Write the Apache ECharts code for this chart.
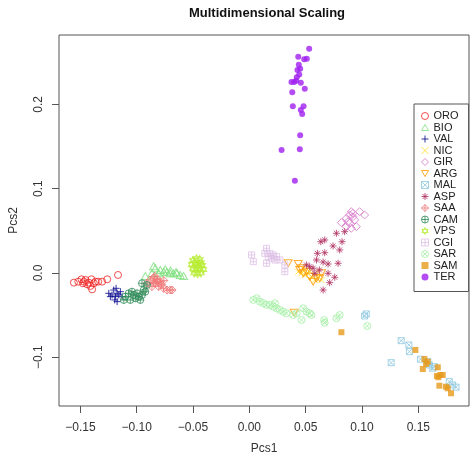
<!DOCTYPE html>
<html>
<head>
<meta charset="utf-8">
<script src="https://cdn.jsdelivr.net/npm/echarts@6/dist/echarts.min.js"></script>
<style>html,body{margin:0;padding:0;background:#fff}#c{width:472px;height:463px}</style>
</head>
<body>
<div id="c"></div>
<script>
// ---- data ----
const groups = ['ORO','BIO','VAL','NIC','GIR','ARG','MAL','ASP','SAA','CAM','VPS','CGI','SAR','SAM','TER'];
const xTicks = [-0.15,-0.10,-0.05,0.00,0.05,0.10,0.15];
const yTicks = [-0.1,0.0,0.1,0.2];

const ORO = [[-0.1558,-0.0115],[-0.1519,-0.0103],[-0.1490,-0.0075],[-0.1469,-0.0103],[-0.1455,-0.0083],[-0.1425,-0.0115],[-0.1402,-0.0075],[-0.1381,-0.0122],[-0.1366,-0.0103],[-0.1396,-0.0194],[-0.1342,-0.0103],[-0.1307,-0.0103],[-0.1262,-0.0075],[-0.1166,-0.0024],[-0.1478,-0.0122],[-0.1440,-0.0134],[-0.1411,-0.0154]];
const BIO = [[-0.0835,0.0056],[-0.0791,0.0036],[-0.0761,0.0015],[-0.0732,0.0015],[-0.0703,-0.0004],[-0.0673,-0.0004],[-0.0643,-0.0004],[-0.0614,-0.0024],[-0.0584,-0.0036],[-0.0865,-0.0004],[-0.0924,-0.0036],[-0.0805,-0.0004],[-0.0747,0.0044],[-0.0850,0.0080],[-0.0700,0.0030],[-0.0650,0.0010]];
const VAL = [[-0.1248,-0.0241],[-0.1219,-0.0261],[-0.1204,-0.0202],[-0.1189,-0.0281],[-0.1174,-0.0241],[-0.1159,-0.0261],[-0.1145,-0.0222],[-0.1195,-0.0320],[-0.1174,-0.0340],[-0.1234,-0.0281],[-0.1130,-0.0281],[-0.1183,-0.0182]];
const NIC = [[0.0434,0.0015],[0.0463,-0.0004],[0.0492,-0.0024],[0.0522,-0.0004],[0.0551,-0.0044],[0.0581,-0.0024],[0.0611,-0.0044],[0.0581,-0.0083],[0.0640,-0.0083],[0.0492,0.0036],[0.0536,0.0015]];
const GIR = [[0.0817,0.0597],[0.0861,0.0649],[0.0890,0.0688],[0.0905,0.0727],[0.0920,0.0668],[0.0935,0.0629],[0.0890,0.0590],[0.0861,0.0549],[0.0950,0.0549],[0.0979,0.0727],[0.1023,0.0688],[0.0920,0.0708],[0.0876,0.0609],[0.0905,0.0530]];
const ARG = [[0.0345,0.0115],[0.0434,0.0107],[0.0448,0.0036],[0.0478,-0.0004],[0.0507,0.0015],[0.0536,-0.0044],[0.0566,-0.0103],[0.0596,-0.0063],[0.0625,-0.0063],[0.0463,0.0056],[0.0640,-0.0004],[0.0398,-0.0471]];
const MAL = [[0.1023,-0.0510],[0.1038,-0.0486],[0.1348,-0.0803],[0.1416,-0.0854],[0.1421,-0.0933],[0.1259,-0.1064],[0.1519,-0.1023],[0.1598,-0.1091],[0.1628,-0.1130],[0.1642,-0.1111],[0.1775,-0.1289],[0.1805,-0.1328],[0.1835,-0.1355],[0.1584,-0.1052]];
const ASP = [[0.0773,0.0471],[0.0846,0.0490],[0.0634,0.0371],[0.0669,0.0391],[0.0823,0.0371],[0.0743,0.0320],[0.0802,0.0273],[0.0604,0.0233],[0.0669,0.0240],[0.0788,0.0115],[0.0596,0.0154],[0.0655,0.0130],[0.0699,0.0107],[0.0507,0.0095],[0.0566,0.0056],[0.0581,-0.0004],[0.0699,-0.0004],[0.0758,-0.0051],[0.0713,-0.0115],[0.0655,-0.0202],[0.0536,0.0075],[0.0622,0.0036]];
const SAA = [[-0.0909,-0.0122],[-0.0880,-0.0083],[-0.0850,-0.0063],[-0.0820,-0.0075],[-0.0791,-0.0103],[-0.0761,-0.0182],[-0.0732,-0.0202],[-0.0703,-0.0202],[-0.0865,-0.0162],[-0.0805,-0.0162],[-0.0835,-0.0122],[-0.0850,-0.0120],[-0.0810,-0.0110],[-0.0780,-0.0140],[-0.0840,-0.0040],[-0.0760,-0.0090],[-0.0686,-0.0202]];
const CAM = [[-0.1101,-0.0281],[-0.1071,-0.0241],[-0.1042,-0.0222],[-0.1027,-0.0261],[-0.1012,-0.0300],[-0.0997,-0.0241],[-0.1057,-0.0320],[-0.0982,-0.0281],[-0.0953,-0.0261],[-0.0938,-0.0202],[-0.0953,-0.0122],[-0.0909,-0.0142],[-0.0924,-0.0222],[-0.1115,-0.0320],[-0.0968,-0.0320]];
const VPS = [[-0.0500,0.0150],[-0.0470,0.0170],[-0.0440,0.0160],[-0.0510,0.0100],[-0.0480,0.0110],[-0.0450,0.0100],[-0.0420,0.0090],[-0.0500,0.0050],[-0.0470,0.0040],[-0.0440,0.0050],[-0.0410,0.0040],[-0.0490,0.0000],[-0.0460,-0.0010],[-0.0430,0.0000],[-0.0460,0.0080],[-0.0430,0.0120]];
const CGI = [[0.0020,0.0214],[0.0035,0.0134],[0.0153,0.0293],[0.0138,0.0233],[0.0168,0.0194],[0.0182,0.0233],[0.0197,0.0174],[0.0227,0.0154],[0.0242,0.0194],[0.0271,0.0154],[0.0153,0.0115],[0.0315,0.0015],[0.0212,0.0214],[0.0315,0.0095]];
const SAR = [[0.0035,-0.0320],[0.0065,-0.0300],[0.0094,-0.0340],[0.0124,-0.0359],[0.0153,-0.0379],[0.0182,-0.0379],[0.0212,-0.0399],[0.0242,-0.0419],[0.0271,-0.0439],[0.0301,-0.0459],[0.0330,-0.0478],[0.0389,-0.0499],[0.0419,-0.0478],[0.0478,-0.0419],[0.0507,-0.0459],[0.0536,-0.0478],[0.0463,-0.0558],[0.0551,-0.0499],[0.0664,-0.0558],[0.0669,-0.0590],[0.0773,-0.0537],[0.0802,-0.0499],[0.1047,-0.0629],[0.0227,-0.0359]];
const SAM = [[0.0817,-0.0703],[0.1474,-0.0913],[0.1554,-0.1020],[0.1569,-0.1080],[0.1540,-0.1139],[0.1673,-0.1119],[0.1666,-0.1222],[0.1696,-0.1210],[0.1717,-0.1210],[0.1678,-0.1237],[0.1687,-0.1337],[0.1746,-0.1349],[0.1761,-0.1368],[0.1790,-0.1427],[0.1584,-0.1052]];
const TER = [[0.0531,0.2660],[0.0434,0.2566],[0.0487,0.2534],[0.0510,0.2541],[0.0439,0.2471],[0.0427,0.2408],[0.0451,0.2423],[0.0421,0.2321],[0.0374,0.2266],[0.0398,0.2266],[0.0457,0.2258],[0.0381,0.2143],[0.0492,0.2186],[0.0386,0.1977],[0.0481,0.1977],[0.0457,0.1934],[0.0469,0.1886],[0.0451,0.1633],[0.0286,0.1459],[0.0448,0.1467],[0.0404,0.1095],[0.0443,0.2355],[0.0415,0.2280]];

const dataByGroup = {ORO,BIO,VAL,NIC,GIR,ARG,MAL,ASP,SAA,CAM,VPS,CGI,SAR,SAM,TER};

// ---- styles ----
const C = 'M10,5A5,5,0,1,1,0,5A5,5,0,1,1,10,5Z';
const PLUS = 'M5,0L5,10M0,5L10,5';
const CROSS = 'M1.46,1.46L8.54,8.54M8.54,1.46L1.46,8.54';
const styles = {
  ORO: {sym:'circle', color:'#EE2222', open:true, size:7},
  BIO: {sym:'path://M5,0L10,8.66L0,8.66Z', color:'#7FE07F', open:true, size:[8,7]},
  VAL: {sym:'path://'+PLUS, color:'#00008B', open:true, size:7},
  NIC: {sym:'path://'+CROSS, color:'#FFE020', open:true, size:6},
  GIR: {sym:'path://M5,0L10,5L5,10L0,5Z', color:'#D673C8', open:true, size:8},
  ARG: {sym:'path://M0,0L10,0L5,8.66Z', color:'#FF9A00', open:true, size:[8,7]},
  MAL: {sym:'path://M0,0L10,0L10,10L0,10ZM0,0L10,10M10,0L0,10', color:'#8EC8E0', open:true, size:6},
  ASP: {sym:'path://'+PLUS+'M1.46,1.46L8.54,8.54M8.54,1.46L1.46,8.54', color:'#B03060', open:true, size:7},
  SAA: {sym:'path://M5,0L10,5L5,10L0,5ZM5,0L5,10M0,5L10,5', color:'#F07878', open:true, size:8},
  CAM: {sym:'path://'+C+PLUS, color:'#2E8B57', open:true, size:7},
  VPS: {sym:'path://M5,0L10,8L0,8ZM0,3L10,3L5,11Z', color:'#B8EC34', open:true, size:[7,8]},
  CGI: {sym:'path://M0,0L10,0L10,10L0,10ZM5,0L5,10M0,5L10,5', color:'#DDC0E6', open:true, size:6},
  SAR: {sym:'path://'+C+CROSS, color:'#A6F0A6', open:true, size:7},
  SAM: {sym:'rect', color:'#E69A1B', open:false, size:6},
  TER: {sym:'circle', color:'#A020F0', open:false, size:6}
};

const FONT = '"Liberation Sans", Arial, sans-serif';
const fmt = (v, d) => v.toFixed(d).replace('-', '\u2212');

const series = groups.map(g => {
  const s = styles[g];
  return {
    name: g,
    type: 'scatter',
    data: dataByGroup[g],
    symbol: s.sym,
    symbolSize: s.size,
    itemStyle: s.open
      ? {color: 'rgba(0,0,0,0)', borderColor: s.color, borderWidth: 1}
      : {color: s.color, borderColor: s.color, borderWidth: 0},
    emphasis: {disabled: true}
  };
});

const chart = echarts.init(document.getElementById('c'), null, {renderer: 'canvas'});
chart.setOption({
  animation: false,
  backgroundColor: '#fff',
  title: {
    text: 'Multidimensional Scaling',
    left: 262, top: 2, textAlign: 'center',
    textStyle: {fontFamily: FONT, fontWeight: 'bold', fontSize: 13, color: '#111'}
  },
  grid: {left: 56, right: 3, top: 35, bottom: 57, show: true, borderColor: '#555', borderWidth: 1, backgroundColor: 'transparent'},
  legend: {
    orient: 'vertical', left: 414, top: 104,
    data: groups.map(g => ({
      name: g,
      itemStyle: styles[g].open ? {borderWidth: 1} : {borderWidth: 0}
    })),
    itemWidth: 7, itemHeight: 7, itemGap: 0.5,
    padding: [6.5, 10, 9, 7],
    borderColor: '#555', borderWidth: 1, backgroundColor: '#fff',
    textStyle: {fontFamily: FONT, fontSize: 11, lineHeight: 11, color: '#222'},
    selectedMode: false
  },
  xAxis: {
    type: 'value', min: -0.169, max: 0.195,
    name: 'Pcs1', nameLocation: 'middle', nameGap: 37,
    nameTextStyle: {fontFamily: FONT, fontSize: 12, color: '#333'},
    axisLine: {show: false, onZero: false},
    axisTick: {show: true, length: 7, lineStyle: {color: '#555'}, customValues: xTicks},
    axisLabel: {fontFamily: FONT, fontSize: 12, color: '#333', margin: 16, customValues: xTicks, formatter: v => fmt(v, 2)},
    splitLine: {show: false}
  },
  yAxis: {
    type: 'value', min: -0.1578, max: 0.2823,
    name: 'Pcs2', nameLocation: 'middle', nameGap: 39,
    nameTextStyle: {fontFamily: FONT, fontSize: 12, color: '#333'},
    axisLine: {show: false, onZero: false},
    axisTick: {show: true, length: 7, lineStyle: {color: '#555'}, customValues: yTicks},
    axisLabel: {fontFamily: FONT, fontSize: 12, color: '#333', margin: 14, rotate: 90, customValues: yTicks, formatter: v => fmt(v, 1)},
    splitLine: {show: false}
  },
  series: series
});
</script>
</body>
</html>
